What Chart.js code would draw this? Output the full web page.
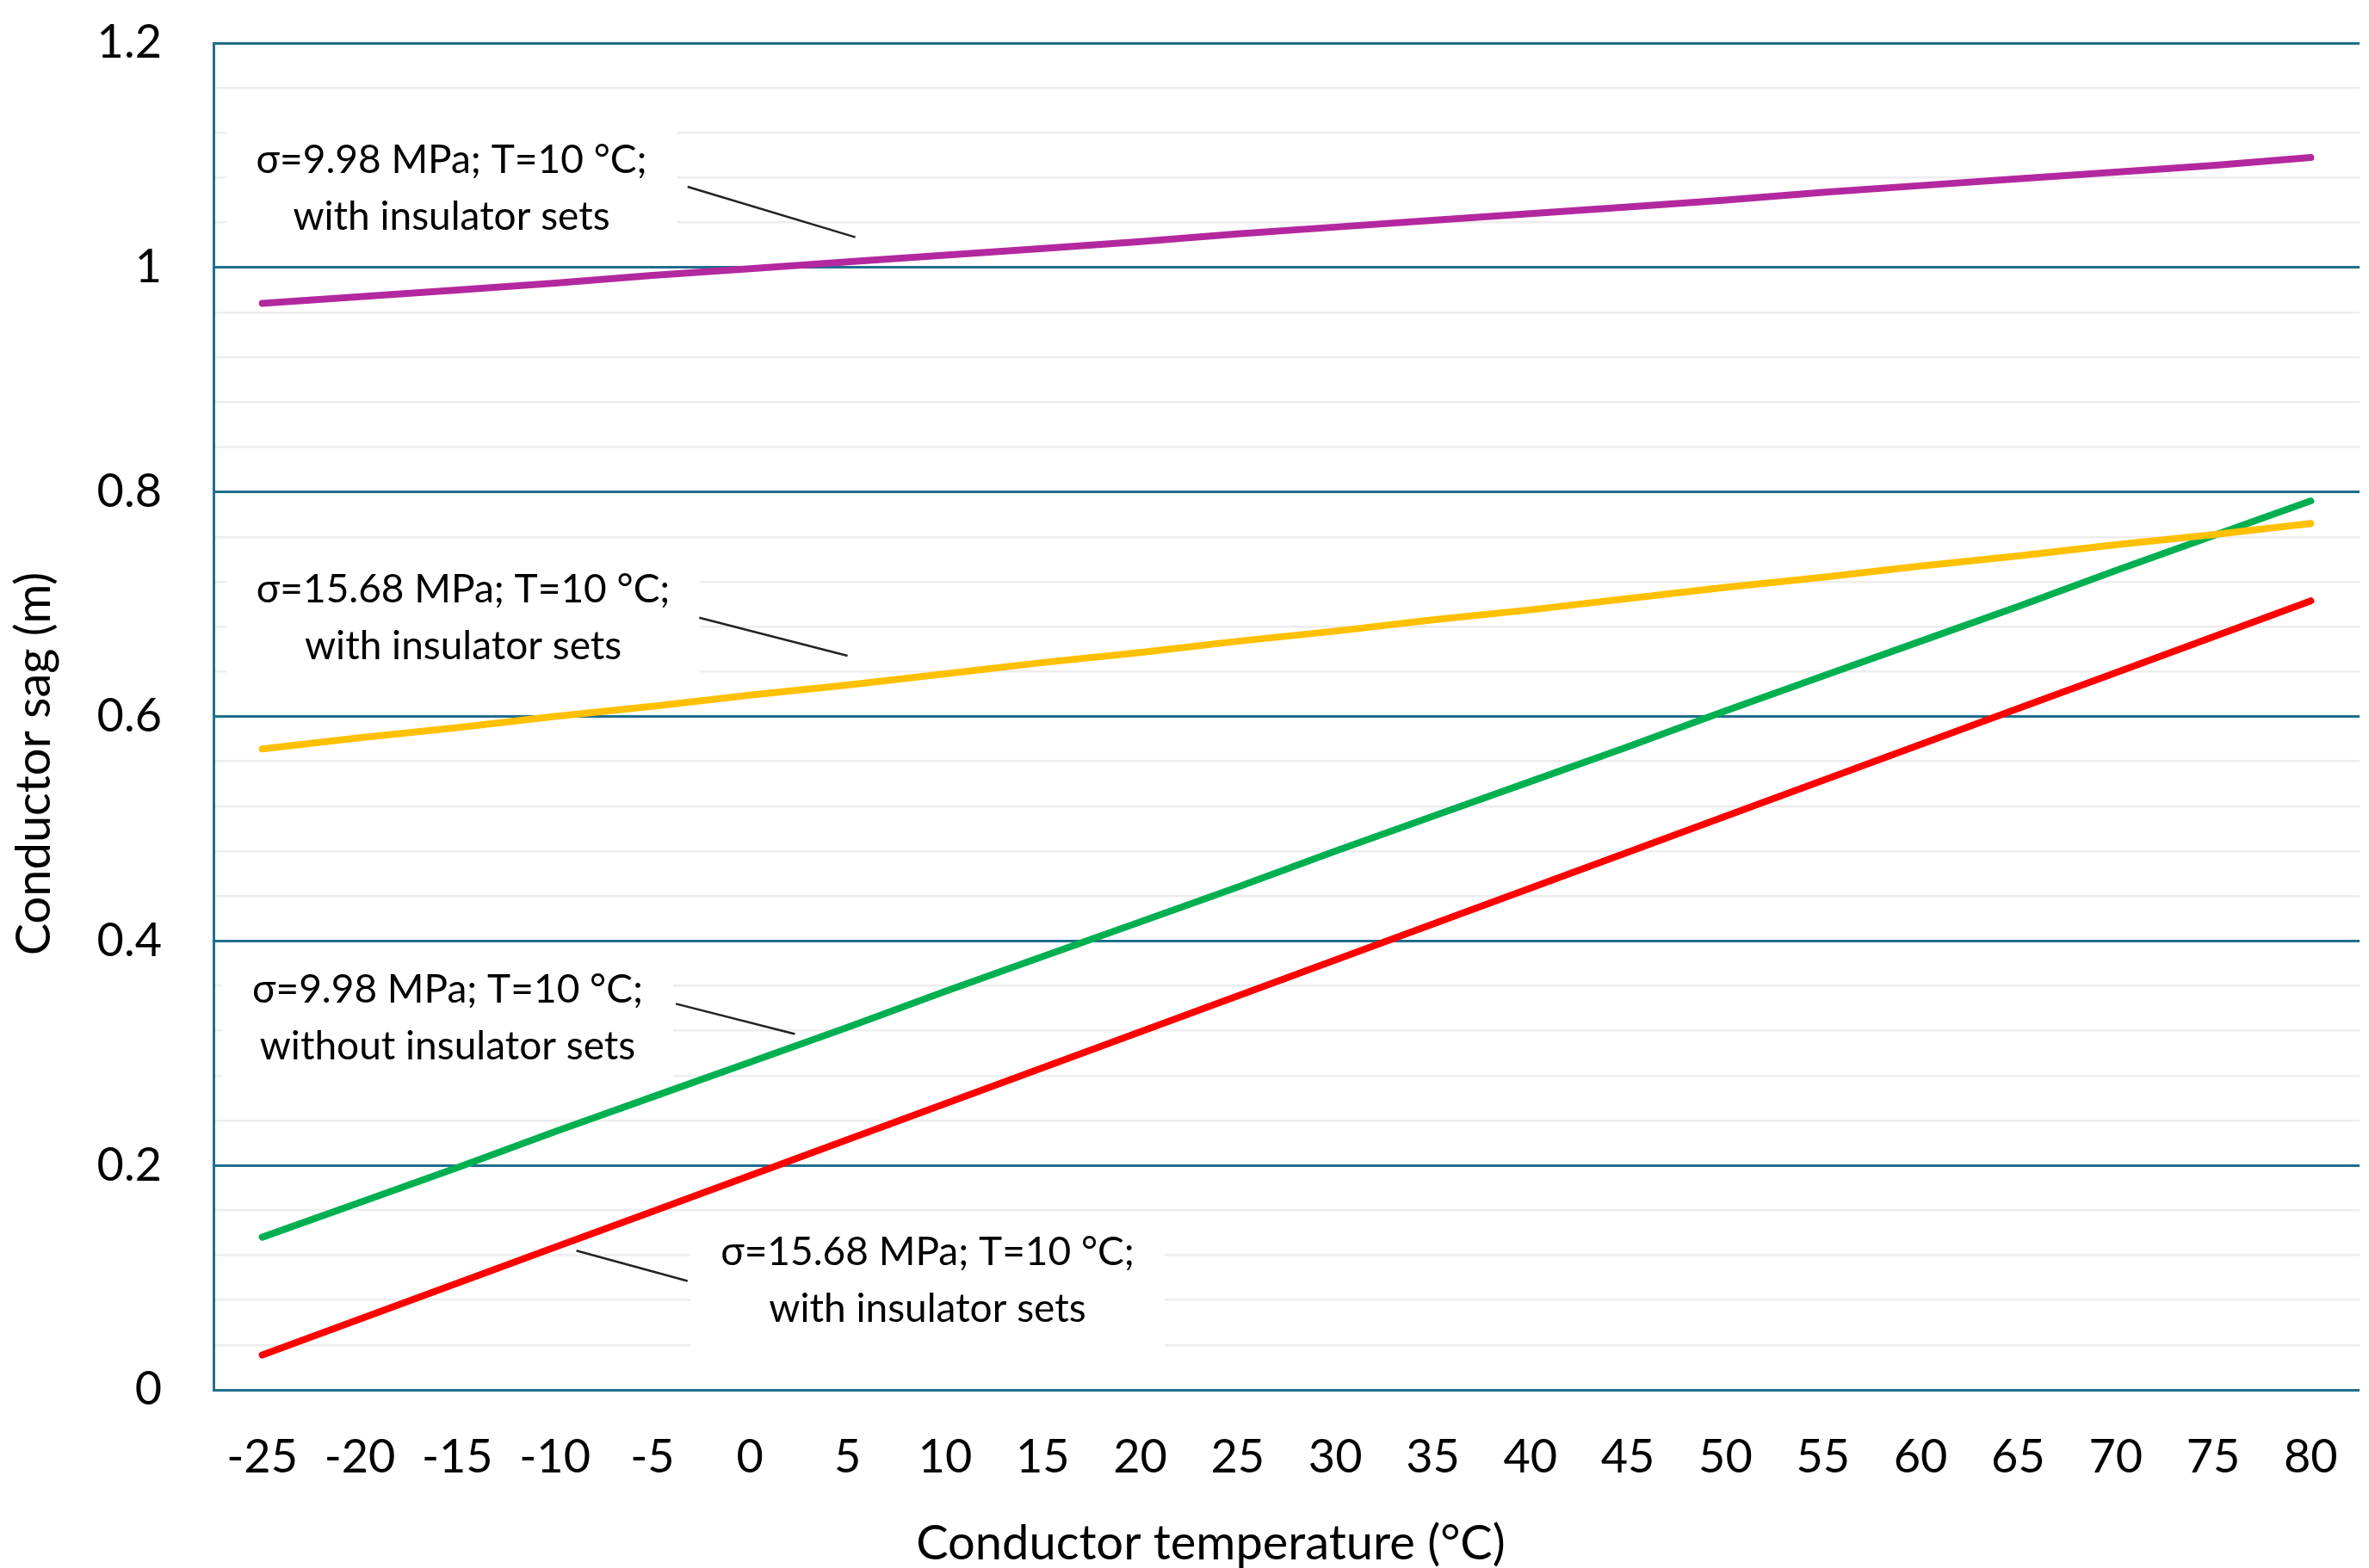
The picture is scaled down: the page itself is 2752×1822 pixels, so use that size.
<!DOCTYPE html>
<html>
<head>
<meta charset="utf-8">
<script src="https://cdn.jsdelivr.net/npm/chart.js@4.4.1/dist/chart.umd.min.js"></script>
<style>
  html, body { margin: 0; padding: 0; background: #fff; }
  #wrap { width: 2752px; height: 1822px; }
</style>
</head>
<body>
<div id="wrap"><canvas id="sagChart" width="2752" height="1822"></canvas></div>
<script>
// Conductor temperature (°C)
const temperatures = [-25, -20, -15, -10, -5, 0, 5, 10, 15, 20, 25, 30, 35, 40, 45, 50, 55, 60, 65, 70, 75, 80];

// Conductor sag (m)
const sagLowWith = [0.968, 0.974, 0.980, 0.986, 0.993, 0.999, 1.005, 1.011, 1.017, 1.023, 1.030,
  1.036, 1.042, 1.048, 1.054, 1.060, 1.067, 1.073, 1.079, 1.085, 1.091, 1.098];
const sagHighWith = [0.571, 0.581, 0.590, 0.600, 0.609, 0.619, 0.628, 0.638, 0.648, 0.657, 0.667,
  0.676, 0.686, 0.695, 0.705, 0.715, 0.724, 0.734, 0.743, 0.753, 0.762, 0.772];
const sagLowWithout = [0.136, 0.167, 0.198, 0.230, 0.261, 0.292, 0.323, 0.355, 0.386, 0.417, 0.448,
  0.480, 0.511, 0.542, 0.573, 0.605, 0.636, 0.667, 0.698, 0.730, 0.761, 0.792];
const sagHighWithRed = [0.031, 0.063, 0.095, 0.127, 0.159, 0.191, 0.223, 0.255, 0.287, 0.319, 0.351,
  0.383, 0.415, 0.447, 0.479, 0.511, 0.543, 0.575, 0.607, 0.639, 0.671, 0.703];

const seriesNames = [
  'σ=9.98 MPa; T=10 °C; with insulator sets',
  'σ=15.68 MPa; T=10 °C; with insulator sets',
  'σ=9.98 MPa; T=10 °C; without insulator sets',
  'σ=15.68 MPa; T=10 °C; with insulator sets (red)'
];
const seriesColors = ['#B3289E', '#FFC000', '#00B050', '#FF0000'];

// Call-out labels: text lines, label centre (temp, sag), leader start and end (temp, sag)
const calloutLines = [
  ['σ=9.98 MPa; T=10 °C;', 'with insulator sets'],
  ['σ=15.68 MPa; T=10 °C;', 'with insulator sets'],
  ['σ=9.98 MPa; T=10 °C;', 'without insulator sets'],
  ['σ=15.68 MPa; T=10 °C;', 'with insulator sets']
];
const calloutCentre = [[-15.3, 1.070], [-14.7, 0.688], [-15.5, 0.331], [9.1, 0.097]];
const leaderFrom = [[-3.2, 1.072], [-2.6, 0.688], [-3.8, 0.344], [-3.2, 0.097]];
const leaderTo = [[5.4, 1.027], [5.0, 0.654], [2.3, 0.317], [-8.9, 0.124]];

const FONT = 'Lato, "Liberation Sans", sans-serif';
const GRID_MAJOR = '#1F6E8C';
const GRID_MINOR = '#EDEDED';

function isMajor(v) {
  return Math.abs(v / 0.2 - Math.round(v / 0.2)) < 1e-6;
}

// temperature -> pixel on the category axis
function tempPixel(scale, t) {
  const idx = (t - temperatures[0]) / 5;
  return scale.getPixelForValue(0) + idx * (scale.getPixelForValue(1) - scale.getPixelForValue(0));
}

const calloutPlugin = {
  id: 'callouts',
  beforeDatasetsDraw(chart) {
    const { ctx, scales: { x, y } } = chart;
    ctx.save();
    ctx.font = '46px ' + FONT;
    calloutLines.forEach((lines, i) => {
      const cx = tempPixel(x, calloutCentre[i][0]);
      const cy = y.getPixelForValue(calloutCentre[i][1]);
      const w = Math.max(...lines.map(l => ctx.measureText(l).width)) + 70;
      const h = 160;
      ctx.fillStyle = '#fff';
      ctx.fillRect(cx - w / 2, cy - h / 2, w, h);
    });
    ctx.restore();
  },
  afterDatasetsDraw(chart) {
    const { ctx, scales: { x, y } } = chart;
    ctx.save();
    ctx.font = '46px ' + FONT;
    ctx.fillStyle = '#000';
    ctx.textAlign = 'center';
    ctx.textBaseline = 'middle';
    calloutLines.forEach((lines, i) => {
      const cx = tempPixel(x, calloutCentre[i][0]);
      const cy = y.getPixelForValue(calloutCentre[i][1]);
      ctx.fillText(lines[0], cx, cy - 33);
      ctx.fillText(lines[1], cx, cy + 33);
      ctx.beginPath();
      ctx.strokeStyle = '#222';
      ctx.lineWidth = 2.5;
      ctx.moveTo(tempPixel(x, leaderFrom[i][0]), y.getPixelForValue(leaderFrom[i][1]));
      ctx.lineTo(tempPixel(x, leaderTo[i][0]), y.getPixelForValue(leaderTo[i][1]));
      ctx.stroke();
    });

    // axis titles
    const area = chart.chartArea;
    ctx.font = '56px ' + FONT;
    ctx.fillText('Conductor temperature (°C)', (area.left + area.right) / 2 - 88, 1794);
    ctx.translate(40, (area.top + area.bottom) / 2 + 55);
    ctx.rotate(-Math.PI / 2);
    ctx.fillText('Conductor sag (m)', 0, 0);
    ctx.restore();
  }
};

new Chart(document.getElementById('sagChart'), {
  type: 'line',
  data: {
    labels: temperatures,
    datasets: [sagLowWith, sagHighWith, sagLowWithout, sagHighWithRed].map((d, i) => ({
      label: seriesNames[i],
      data: d,
      borderColor: seriesColors[i],
      backgroundColor: seriesColors[i],
      borderWidth: 8,
      borderCapStyle: 'round',
      pointRadius: 0,
      tension: 0,
      fill: false
    }))
  },
  options: {
    responsive: false,
    devicePixelRatio: 1,
    animation: false,
    layout: { padding: { top: 50, right: 11, left: 0, bottom: 0 } },
    plugins: {
      legend: { display: false },
      tooltip: { enabled: false }
    },
    scales: {
      x: {
        offset: true,
        grid: { display: false, drawTicks: false },
        border: { display: false },
        ticks: {
          color: '#000',
          padding: 46,
          font: { family: FONT, size: 54 },
          maxRotation: 0,
          autoSkip: false
        },
        afterFit(scale) {
          scale.height = 207;
          scale.paddingLeft = 0;
          scale.paddingRight = 0;
        }
      },
      y: {
        min: 0,
        max: 1.2,
        grid: {
          drawTicks: false,
          color: ctx => isMajor(ctx.tick.value) ? GRID_MAJOR : GRID_MINOR,
          lineWidth: ctx => isMajor(ctx.tick.value) ? 3 : 2.5
        },
        border: { display: true, color: GRID_MAJOR, width: 3 },
        ticks: {
          stepSize: 0.04,
          autoSkip: false,
          color: '#000',
          padding: 60,
          font: { family: FONT, size: 54 },
          callback: v => isMajor(v) ? String(Math.round(v * 10) / 10) : ''
        },
        afterFit(scale) {
          scale.width = 248;
          scale.paddingTop = 0;
          scale.paddingBottom = 0;
        }
      }
    }
  },
  plugins: [calloutPlugin]
});
</script>
</body>
</html>
